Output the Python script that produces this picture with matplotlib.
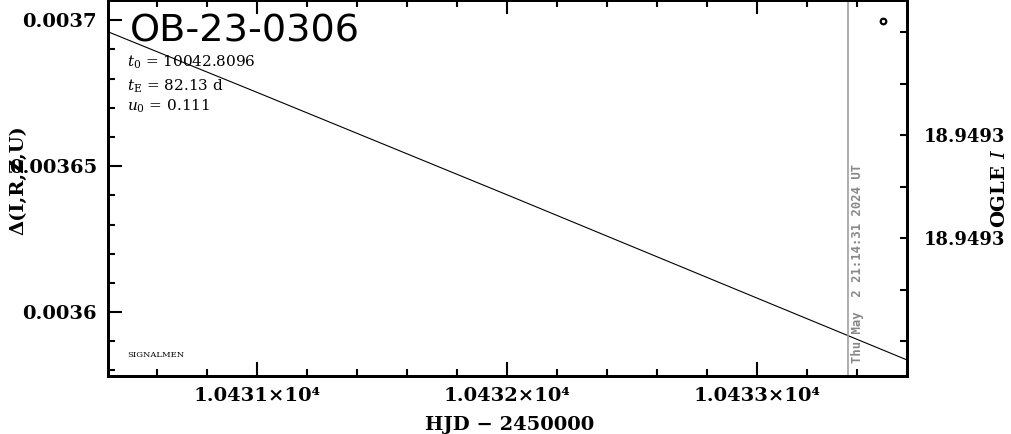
import numpy as np
import matplotlib
matplotlib.use("Agg")
import matplotlib.pyplot as plt
from matplotlib.ticker import FixedLocator, MultipleLocator, FuncFormatter

# ---------------------- data ----------------------
event_name = "OB-23-0306"
t0_text = "10042.8096"
te_text = "82.13"
u0_text = "0.111"

model_hjd = [10430.40, 10431.0, 10432.0, 10433.0, 10433.60]
model_flux = [0.0036962, 0.0036753, 0.0036402, 0.0036048, 0.0035836]

ogle_hjd = [10433.504]
ogle_flux = [0.0036997]

now_hjd = 10433.364
now_label = "Thu May  2 21:14:31 2024 UT"

x_major = [10431, 10432, 10433]
x_labels = ["1.0431×10⁴", "1.0432×10⁴", "1.0433×10⁴"]
y_major = [0.0036, 0.00365, 0.0037]
y_labels = ["0.0036", "0.00365", "0.0037"]
mag_major = [18.94928, 18.94930]
mag_minor = [18.94926, 18.94927, 18.94929, 18.94931, 18.94932]

xlim = (10430.404, 10433.6)
ylim = (0.0035781, 0.0037068)
maglim = (18.9493268, 18.9492538)

# ---------------------- figure ----------------------
plt.rcParams["font.family"] = ["DejaVu Serif"]
plt.rcParams["mathtext.fontset"] = "dejavuserif"

fig = plt.figure(figsize=(10.11, 4.34), dpi=100)
ax = fig.add_axes([108 / 1011, 1 - 376 / 434, 799 / 1011, 376 / 434 - 0.001])

ax.plot(model_hjd, model_flux, color="black", lw=0.8)
ax.plot(ogle_hjd, ogle_flux, "o", mfc="none", mec="black", ms=4, mew=1.6)
ax.axvline(now_hjd, color="#999999", lw=1.1)
ax.text(now_hjd + 0.036, ylim[0] + 0.035 * (ylim[1] - ylim[0]), now_label,
        rotation=90, ha="center", va="bottom", color="#888888",
        fontsize=8.8, fontweight="bold", family="DejaVu Sans Mono")

ax.set_xlim(*xlim)
ax.set_ylim(*ylim)

ax.xaxis.set_major_locator(FixedLocator(x_major))
ax.xaxis.set_minor_locator(MultipleLocator(0.2))
ax.set_xticklabels(x_labels)
ax.yaxis.set_major_locator(FixedLocator(y_major))
ax.yaxis.set_minor_locator(MultipleLocator(0.00001))
ax.set_yticklabels(y_labels)

ax.tick_params(which="both", direction="in", top=True, right=False, width=1.5,
               labelsize=14, pad=8)
ax.tick_params(which="major", length=10)
ax.tick_params(which="minor", length=5)
for lab in ax.get_xticklabels() + ax.get_yticklabels():
    lab.set_fontweight("bold")
for s in ax.spines.values():
    s.set_linewidth(2)

# right axis (OGLE magnitude)
ax2 = ax.twinx()
ax2.set_ylim(*maglim)
ax2.yaxis.set_major_locator(FixedLocator(mag_major))
ax2.yaxis.set_minor_locator(FixedLocator(mag_minor))
ax2.yaxis.set_major_formatter(FuncFormatter(lambda v, p: "%.4f" % v))
ax2.tick_params(which="both", direction="in", length=5, width=1.5,
                labelsize=13, pad=12)
for lab in ax2.get_yticklabels():
    lab.set_fontweight("bold")
for s in ax2.spines.values():
    s.set_linewidth(2)

# texts
ax.text(22 / 799, 1 - 31 / 376, event_name, transform=ax.transAxes,
        fontsize=27.5, family="DejaVu Sans", va="center", ha="left")
ax.text(19 / 799, 1 - 62 / 376, r"$t_0$ = " + t0_text, transform=ax.transAxes,
        fontsize=11, va="center")
ax.text(19 / 799, 1 - 86 / 376, r"$t_{\rm E}$ = " + te_text + " d", transform=ax.transAxes,
        fontsize=11, va="center")
ax.text(19 / 799, 1 - 106 / 376, r"$u_0$ = " + u0_text, transform=ax.transAxes,
        fontsize=11, va="center")
ax.text(19 / 799, 1 - 355 / 376, "SIGNALMEN", transform=ax.transAxes,
        fontsize=6, va="center")

fig.text(18 / 1011, 1 - 180 / 434, "Δ(I,R,Z,U)", rotation=90, ha="center", va="center",
         fontsize=14, fontweight="bold")
fig.text(1000 / 1011, 1 - 188 / 434, r"OGLE $\mathit{I}$", rotation=90, ha="center",
         va="center", fontsize=14, fontweight="bold")
fig.text(510 / 1011, 1 - 425 / 434, "HJD − 2450000", ha="center", va="center",
         fontsize=14, fontweight="bold")

fig.savefig("out.png", dpi=100)
